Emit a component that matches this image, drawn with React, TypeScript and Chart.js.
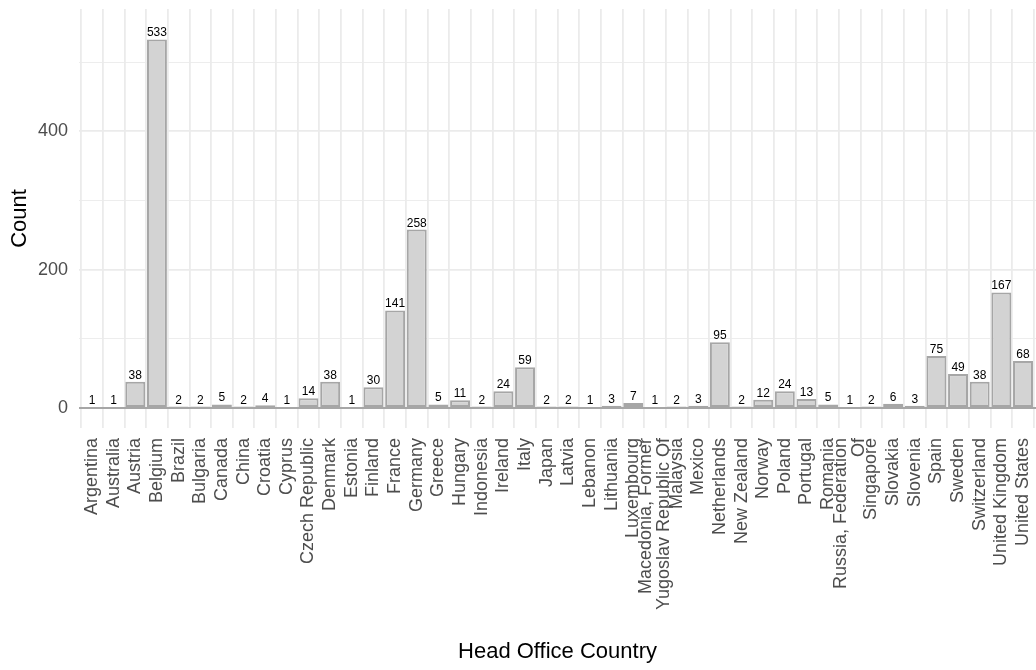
import React, { useEffect, useRef } from "react";
import { Chart, registerables } from "chart.js";

Chart.register(...registerables);

const countries: (string | string[])[] = [
  "Argentina", "Australia", "Austria", "Belgium", "Brazil", "Bulgaria", "Canada", "China",
  "Croatia", "Cyprus", "Czech Republic", "Denmark", "Estonia", "Finland", "France", "Germany",
  "Greece", "Hungary", "Indonesia", "Ireland", "Italy", "Japan", "Latvia", "Lebanon",
  "Lithuania", "Luxembourg", ["Macedonia, Former", "Yugoslav Republic Of"], "Malaysia", "Mexico",
  "Netherlands", "New Zealand", "Norway", "Poland", "Portugal", "Romania",
  ["Russia, Federation", "Of"], "Singapore", "Slovakia", "Slovenia", "Spain", "Sweden",
  "Switzerland", "United Kingdom", "United States",
];

const counts: number[] = [
  1, 1, 38, 533, 2, 2, 5, 2,
  4, 1, 14, 38, 1, 30, 141, 258,
  5, 11, 2, 24, 59, 2, 2, 1,
  3, 7, 1, 2, 3,
  95, 2, 12, 24, 13, 5,
  1, 2, 6, 3, 75, 49,
  38, 167, 68,
];

const yMajorTicks: number[] = [0, 200, 400];
const yGridTicks: number[] = [0, 100, 200, 300, 400, 500];

const FONT = "'Liberation Sans', Arial, Helvetica, sans-serif";

const valueLabels = {
  id: "valueLabels",
  afterDatasetsDraw(chart: any) {
    const ctx = chart.ctx;
    const meta = chart.getDatasetMeta(0);
    ctx.save();
    ctx.font = `12px ${FONT}`;
    ctx.fillStyle = "#000000";
    ctx.textAlign = "center";
    ctx.textBaseline = "alphabetic";
    meta.data.forEach((el: any, i: number) => {
      ctx.fillText(String(counts[i]), el.x, el.y - 3);
    });
    ctx.restore();
  },
};

const centerMultiline = {
  id: "centerMultiline",
  beforeDraw(chart: any) {
    const s: any = chart.scales.x;
    const items = s.getLabelItems();
    items.forEach((it: any) => {
      if (Array.isArray(it.label) && it.label.length > 1 && !it._shifted) {
        it.textOffset -= ((it.label.length - 1) * it.font.lineHeight) / 2;
        it._shifted = true;
      }
    });
  },
};

export default function App() {
  const ref = useRef<HTMLCanvasElement>(null);
  useEffect(() => {
    document.body.style.margin = "0";
    const chart = new Chart(ref.current as HTMLCanvasElement, {
      type: "bar",
      data: {
        datasets: [
          {
            data: counts.map((c, i) => ({ x: i, y: c })),
            backgroundColor: "#D3D3D3",
            borderColor: "#A6A6A6",
            borderWidth: 2,
            borderSkipped: false,
            barPercentage: 0.92,
            categoryPercentage: 1,
          } as any,
        ],
      },
      options: {
        responsive: false,
        animation: false,
        devicePixelRatio: 1,
        layout: { padding: { top: 9, right: 0, left: 0, bottom: 0 } },
        plugins: {
          legend: { display: false },
          tooltip: { enabled: false },
        },
        scales: {
          x: {
            type: "linear",
            min: -0.6,
            max: countries.length - 0.4,
            offset: false,
            grid: { color: "#EBEBEB", lineWidth: 1.8, drawTicks: false },
            border: { display: false },
            afterBuildTicks: (s: any) => {
              s.ticks = countries.map((_, i) => ({ value: i }));
            },
            ticks: {
              autoSkip: false,
              minRotation: 90,
              maxRotation: 90,
              padding: 10,
              color: "#4D4D4D",
              font: { family: FONT, size: 18, lineHeight: 1.0 },
              callback: (v: any) => countries[Math.round(Number(v))] as any,
            },
            title: {
              display: true,
              text: "Head Office Country",
              color: "#000000",
              font: { family: FONT, size: 22 },
              padding: { top: 5, bottom: 5 },
            },
            afterFit: (s: any) => {
              s.height = 242;
              s.paddingLeft = 0;
              s.paddingRight = 0;
            },
          } as any,
          y: {
            min: -29,
            max: 577,
            afterBuildTicks: (s: any) => {
              s.ticks = yGridTicks.map((v) => ({ value: v }));
            },
            grid: {
              drawTicks: false,
              color: (c: any) => (c.tick && c.tick.value === 0 ? "#A6A6A6" : "#EBEBEB"),
              lineWidth: (c: any) =>
                c.tick && c.tick.value === 0 ? 2 : yMajorTicks.includes(c.tick?.value) ? 1.8 : 0.9,
            },
            border: { display: false },
            ticks: {
              autoSkip: false,
              padding: 11,
              color: "#4D4D4D",
              font: { family: FONT, size: 18 },
              callback: (v: any) => (yMajorTicks.includes(Number(v)) ? String(v) : ""),
            },
            title: {
              display: true,
              text: "Count",
              color: "#000000",
              font: { family: FONT, size: 22 },
              padding: { top: 7, bottom: 7 },
            },
            afterFit: (s: any) => {
              s.width = 79;
              s.paddingTop = 0;
              s.paddingBottom = 0;
            },
          } as any,
        },
      },
      plugins: [valueLabels, centerMultiline],
    });
    return () => chart.destroy();
  }, []);

  return (
    <div style={{ position: "absolute", left: 0, top: 0, width: 1036, height: 670, background: "#ffffff" }}>
      <canvas ref={ref} width={1036} height={670} />
    </div>
  );
}
